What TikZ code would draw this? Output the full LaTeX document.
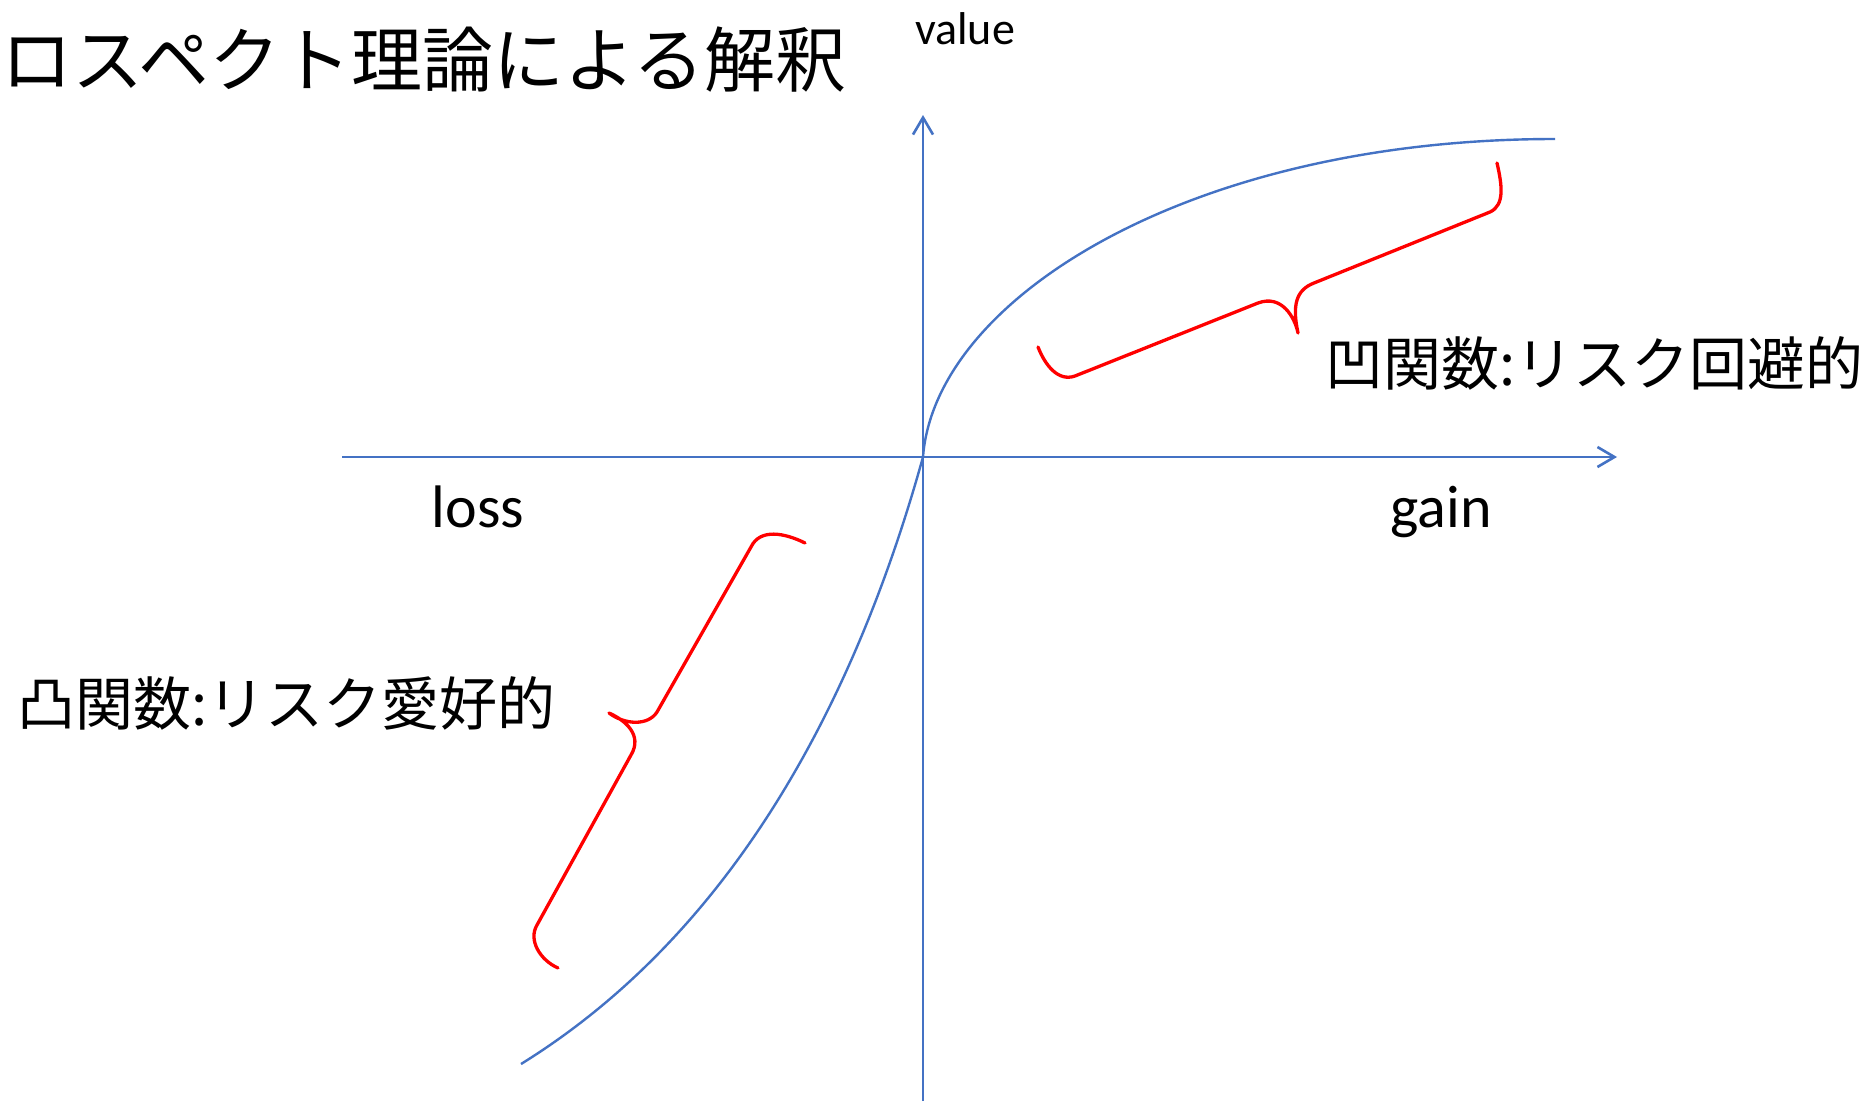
\documentclass[tikz,border=0pt]{standalone}
\usepackage{fontspec}
\setmainfont{Carlito}
\newfontfamily\jpfont{Noto Sans CJK JP}
\usetikzlibrary{arrows.meta}
\definecolor{axisblue}{HTML}{4472C4}
\definecolor{bracered}{HTML}{FF0000}
\begin{document}
\begin{tikzpicture}[x=1pt,y=-1pt,
  axisline/.style={draw=axisblue,line width=2.6pt,-{Straight Barb[length=17pt,width=20pt]}},
  curveline/.style={draw=axisblue,line width=2.4pt},
  bracebrace/.style={draw=bracered,line width=3.3pt,line cap=round,line join=round},
  latinlbl/.style={font=\fontsize{60}{72}\selectfont,inner sep=0pt},
  jplbl/.style={font=\jpfont\fontsize{58}{68}\selectfont,inner sep=0pt}]
\fill[white] (0,0) rectangle (1868,1101);
\useasboundingbox (0,0) rectangle (1868,1101);
% coordinates
\coordinate (O) at (923,457);
\coordinate (xl) at (342,457);
\coordinate (xr) at (1617,457);
\coordinate (yb) at (923,1101);
\coordinate (yt) at (923,115);
\coordinate (ce1) at (1555,139);
\coordinate (ce2) at (521,1064);
% axes
\draw[axisline] (xl) -- (xr);
\draw[axisline] (yb) -- (yt);
% value curve
\draw[curveline] (O) .. controls (935,298) and (1191,139) .. (ce1);
\draw[curveline] (O) .. controls (858,691) and (739,929) .. (ce2);
% upper brace
\draw[bracebrace] (1038,347) .. controls (1045,365) and (1058,382) .. (1075,376)
  -- (1258,303) .. controls (1282,294) and (1295,318) .. (1298,333)
  .. controls (1292,305) and (1296,290) .. (1314,283)
  -- (1490,212) .. controls (1505,205) and (1502,185) .. (1497,163);
% lower brace
\draw[bracebrace] (805,543) .. controls (785,533) and (760,528) .. (751,547)
  -- (657,712) .. controls (648,726) and (625,725) .. (609,713)
  .. controls (625,720) and (643,735) .. (631,755)
  -- (537,925) .. controls (528,940) and (540,960) .. (558,968);
% texts
\node[jplbl,anchor=west,font=\jpfont\fontsize{71}{82}\selectfont] (title) at (1,60) {ロスペクト理論による解釈};
\node[latinlbl,anchor=base,font=\fontsize{46}{54}\selectfont] (value) at (965,44) {value};
\node[latinlbl,anchor=base] (loss) at (478,527) {loss};
\node[latinlbl,anchor=base] (gain) at (1441,527) {gain};
\node[jplbl,anchor=west] (concave) at (1325,363) {凹関数:リスク回避的};
\node[jplbl,anchor=west] (convex) at (17,703) {凸関数:リスク愛好的};
\end{tikzpicture}
\end{document}
